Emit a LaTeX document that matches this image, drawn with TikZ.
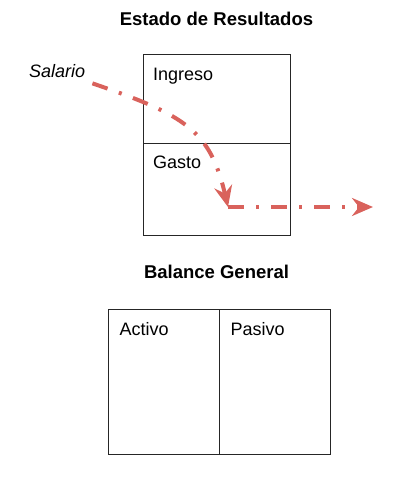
\documentclass[tikz,border=0pt]{standalone}
\usepackage{fontspec}
\setmainfont{Liberation Sans}
\usepackage{xcolor}
\usetikzlibrary{calc,arrows.meta}
\definecolor{flujo}{RGB}{217,98,92}

\begin{document}
\begin{tikzpicture}[x=1pt, y=-1pt,
  caja/.style={draw=black!85, line width=1.1pt, rectangle, inner sep=0pt, anchor=north west},
  etiqueta/.style={font=\fontsize{18}{20}\selectfont, inner sep=0pt, anchor=base west},
  titulo/.style={font=\fontsize{18.5}{20}\selectfont\bfseries, inner sep=0pt, anchor=base},
  flecha/.style={flujo, line width=4pt, dash pattern=on 16pt off 12pt on 3pt off 12pt,
    -{Stealth[length=21pt, width=18pt, inset=7pt]}}]
  \useasboundingbox (0,0) rectangle (401,484);
  % estado de resultados
  \node[titulo] (tituloER) at (216.5,26) {Estado de Resultados};
  \node[caja, minimum width=147pt, minimum height=89pt] (ingreso) at (143,54) {};
  \node[caja, minimum width=147pt, minimum height=92pt] (gasto) at (143,143) {};
  \node[etiqueta] (txtIngreso) at ($(ingreso.north west)+(10,27)$) {Ingreso};
  \node[etiqueta] (txtGasto) at ($(gasto.north west)+(10,25)$) {Gasto};
  % balance general
  \node[titulo] (tituloBG) at (216.5,278) {Balance General};
  \node[caja, minimum width=111pt, minimum height=145pt] (activo) at (107.5,309) {};
  \node[caja, minimum width=111pt, minimum height=145pt] (pasivo) at (218.5,309) {};
  \node[etiqueta] (txtActivo) at ($(activo.north west)+(12,26)$) {Activo};
  \node[etiqueta] (txtPasivo) at ($(pasivo.north west)+(12,26)$) {Pasivo};
  % flujo del salario
  \node[etiqueta, font=\fontsize{18}{20}\selectfont\itshape] (salario) at (29,78) {Salario};
  \coordinate (giro) at (228,207);
  \coordinate (salidaG) at (373,207);
  \draw[flecha] ([shift={(7,5)}]salario.south east) .. controls (185,115) and (210,130) .. (giro);
  \draw[flecha] (giro) -- (salidaG);
\end{tikzpicture}
\end{document}
